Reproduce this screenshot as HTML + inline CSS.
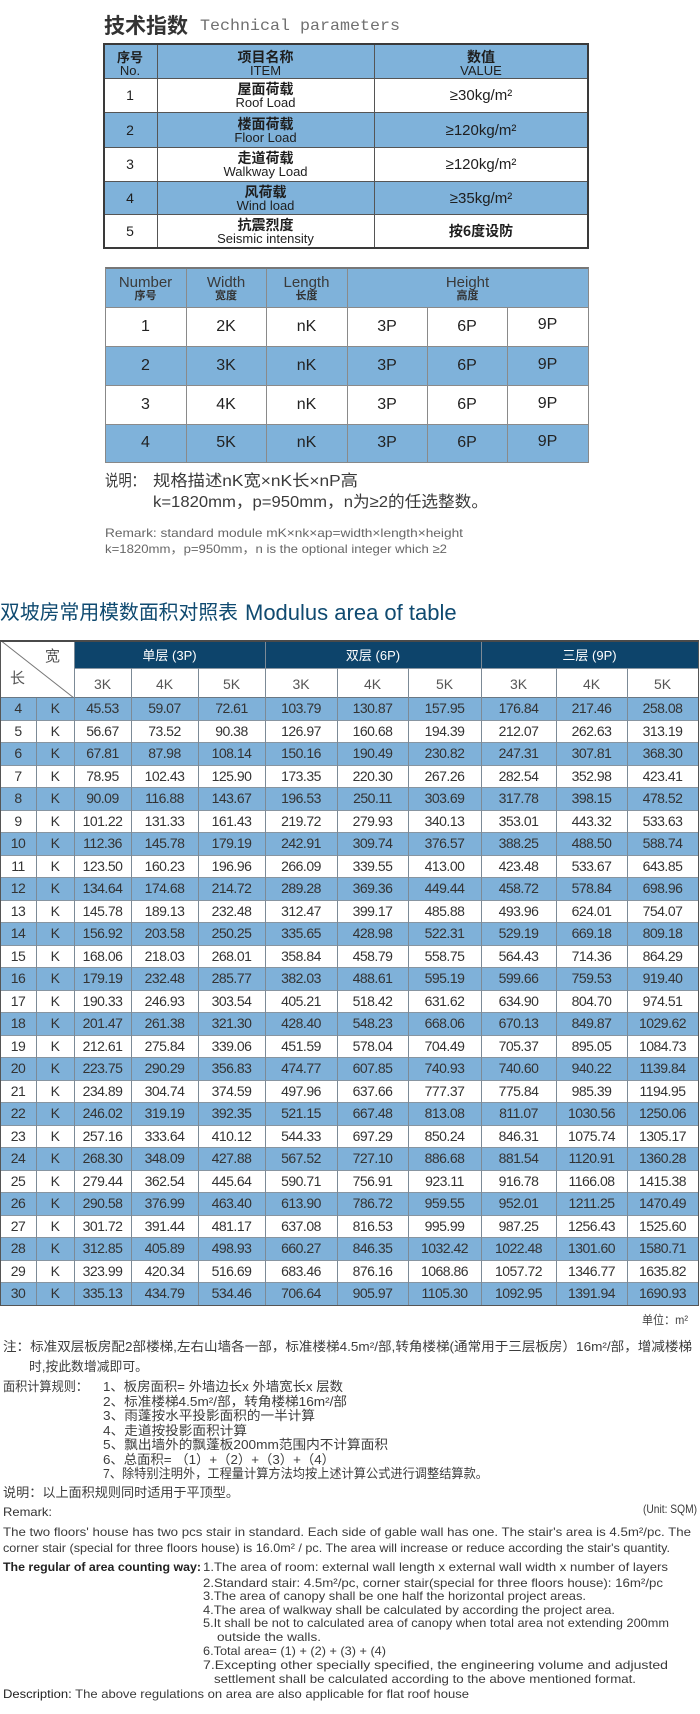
<!DOCTYPE html>
<html><head><meta charset="utf-8">
<style>
*{margin:0;padding:0;box-sizing:border-box}
html,body{width:700px;height:1714px;background:#fff;overflow:hidden}
body{position:relative;font-family:"Liberation Sans","Noto Sans CJK SC",sans-serif;color:#333}
.a{position:absolute}
.f{position:absolute;white-space:nowrap;height:20px;line-height:20px;transform-origin:0 50%}
.c{position:absolute;display:flex;flex-direction:column;align-items:center;justify-content:center;text-align:center;white-space:nowrap}
.b1{background:#7fb2da}
.hl{position:absolute;height:1px}
.vl{position:absolute;width:1px}
.t1 .c{color:#1e1e1e}
.zh{font-family:"Noto Sans CJK SC",sans-serif;font-weight:bold}
.t2 .c{color:#222;font-size:16px}
.r{display:flex;height:22.5px;border-bottom:1px solid #8795a1;color:#333;font-size:14px;letter-spacing:-0.5px}
.r i{font-style:normal;text-align:center;line-height:21.5px;display:block}
.r i:nth-child(1){width:36px}.r i:nth-child(2){width:38px}.r i:nth-child(3){width:57px}
.r i:nth-child(4){width:67px}.r i:nth-child(5){width:67px}.r i:nth-child(6){width:72px}
.r i:nth-child(7){width:71px}.r i:nth-child(8){width:73px}.r i:nth-child(9){width:75px}
.r i:nth-child(10){width:71px}.r i:nth-child(11){width:71px}
.b{background:#7fb1d9}
.n{color:#3c3c3c;font-size:13px}
.e{color:#3a3a3a;font-size:12px}
</style></head><body>

<!-- Title -->
<div class="f" style="left:104px;top:15px;width:84px;font-size:21px;font-weight:bold;color:#333;font-family:'Noto Sans CJK SC',sans-serif">技术指数</div>
<div class="f" style="left:200px;top:16px;width:200px;font-size:16px;color:#707070;font-family:'Liberation Mono',monospace">Technical parameters</div>

<!-- Table 1 -->
<div class="t1">
<div class="a b1" style="left:103px;top:43px;width:485px;height:35px"></div>
<div class="a b1" style="left:103px;top:112px;width:485px;height:35px"></div>
<div class="a b1" style="left:103px;top:181px;width:485px;height:33px"></div>
<div class="hl" style="left:103px;top:78px;width:485px;background:#555"></div>
<div class="hl" style="left:103px;top:112px;width:485px;background:#555"></div>
<div class="hl" style="left:103px;top:147px;width:485px;background:#555"></div>
<div class="hl" style="left:103px;top:181px;width:485px;background:#555"></div>
<div class="hl" style="left:103px;top:214px;width:485px;background:#555"></div>
<div class="vl" style="left:157px;top:43px;height:205px;background:#555"></div>
<div class="vl" style="left:374px;top:43px;height:205px;background:#555"></div>
<div class="a" style="left:103px;top:43px;width:486px;height:206px;border:2px solid #3a3a3a"></div>

<div class="c" style="left:103px;top:46px;width:54px;height:35px;line-height:14px;font-size:13px"><span class="zh">序号</span><span>No.</span></div>
<div class="c" style="left:157px;top:46px;width:217px;height:35px;line-height:14px;font-size:13px"><span class="zh" style="font-size:14px">项目名称</span><span>ITEM</span></div>
<div class="c" style="left:374px;top:46px;width:214px;height:35px;line-height:14px;font-size:13px"><span class="zh" style="font-size:14px">数值</span><span>VALUE</span></div>

<div class="c" style="left:103px;top:78px;width:54px;height:34px;font-size:14px">1</div>
<div class="c" style="left:157px;top:79px;width:217px;height:34px;line-height:14px;font-size:13px"><span class="zh" style="font-size:14px">屋面荷载</span><span>Roof Load</span></div>
<div class="c" style="left:374px;top:78px;width:214px;height:34px;font-size:15px">≥30kg/m²</div>

<div class="c" style="left:103px;top:112px;width:54px;height:35px;font-size:14px">2</div>
<div class="c" style="left:157px;top:113px;width:217px;height:35px;line-height:14px;font-size:13px"><span class="zh" style="font-size:14px">楼面荷载</span><span>Floor Load</span></div>
<div class="c" style="left:374px;top:113px;width:214px;height:35px;font-size:15px">≥120kg/m²</div>

<div class="c" style="left:103px;top:147px;width:54px;height:34px;font-size:14px">3</div>
<div class="c" style="left:157px;top:148px;width:217px;height:34px;line-height:14px;font-size:13px"><span class="zh" style="font-size:14px">走道荷载</span><span>Walkway Load</span></div>
<div class="c" style="left:374px;top:147px;width:214px;height:34px;font-size:15px">≥120kg/m²</div>

<div class="c" style="left:103px;top:181px;width:54px;height:33px;font-size:14px">4</div>
<div class="c" style="left:157px;top:182px;width:217px;height:33px;line-height:14px;font-size:13px"><span class="zh" style="font-size:14px">风荷载</span><span>Wind load</span></div>
<div class="c" style="left:374px;top:182px;width:214px;height:33px;font-size:15px">≥35kg/m²</div>

<div class="c" style="left:103px;top:214px;width:54px;height:34px;font-size:14px">5</div>
<div class="c" style="left:157px;top:215px;width:217px;height:34px;line-height:13px;font-size:13px"><span class="zh" style="font-size:14px">抗震烈度</span><span>Seismic intensity</span></div>
<div class="c" style="left:374px;top:214px;width:214px;height:34px;font-size:14px"><span class="zh" style="font-weight:bold">按6度设防</span></div>
</div>

<!-- Table 2 -->
<div class="t2">
<div class="a b1" style="left:105px;top:268px;width:483px;height:39px"></div>
<div class="a b1" style="left:105px;top:346px;width:483px;height:39px"></div>
<div class="a b1" style="left:105px;top:424px;width:483px;height:38px"></div>
<div class="hl" style="left:105px;top:307px;width:483px;background:#8a8a8a"></div>
<div class="hl" style="left:105px;top:346px;width:483px;background:#8a8a8a"></div>
<div class="hl" style="left:105px;top:385px;width:483px;background:#8a8a8a"></div>
<div class="hl" style="left:105px;top:424px;width:483px;background:#8a8a8a"></div>
<div class="vl" style="left:186px;top:268px;height:194px;background:#8a8a8a"></div>
<div class="vl" style="left:266px;top:268px;height:194px;background:#8a8a8a"></div>
<div class="vl" style="left:347px;top:268px;height:194px;background:#8a8a8a"></div>
<div class="vl" style="left:427px;top:307px;height:155px;background:#8a8a8a"></div>
<div class="vl" style="left:507px;top:307px;height:155px;background:#8a8a8a"></div>
<div class="a" style="left:105px;top:267px;width:484px;height:196px;border:1px solid #888;border-top:2px solid #777"></div>

<div class="c" style="left:105px;top:270px;width:81px;height:37px;line-height:13px"><span style="font-size:15px;color:#3a3a3a">Number</span><span class="zh" style="font-size:11px;color:#333">序号</span></div>
<div class="c" style="left:186px;top:270px;width:80px;height:37px;line-height:13px"><span style="font-size:15px;color:#3a3a3a">Width</span><span class="zh" style="font-size:11px;color:#333">宽度</span></div>
<div class="c" style="left:266px;top:270px;width:81px;height:37px;line-height:13px"><span style="font-size:15px;color:#3a3a3a">Length</span><span class="zh" style="font-size:11px;color:#333">长度</span></div>
<div class="c" style="left:347px;top:270px;width:241px;height:37px;line-height:13px"><span style="font-size:15px;color:#3a3a3a">Height</span><span class="zh" style="font-size:11px;color:#333">高度</span></div>

<div class="c" style="left:105px;top:307px;width:81px;height:39px">1</div>
<div class="c" style="left:186px;top:307px;width:80px;height:39px">2K</div>
<div class="c" style="left:266px;top:307px;width:81px;height:39px">nK</div>
<div class="c" style="left:347px;top:307px;width:80px;height:39px">3P</div>
<div class="c" style="left:427px;top:307px;width:80px;height:39px">6P</div>
<div class="c" style="left:507px;top:305px;width:81px;height:39px">9P</div>

<div class="c" style="left:105px;top:346px;width:81px;height:39px">2</div>
<div class="c" style="left:186px;top:346px;width:80px;height:39px">3K</div>
<div class="c" style="left:266px;top:346px;width:81px;height:39px">nK</div>
<div class="c" style="left:347px;top:346px;width:80px;height:39px">3P</div>
<div class="c" style="left:427px;top:346px;width:80px;height:39px">6P</div>
<div class="c" style="left:507px;top:345px;width:81px;height:39px">9P</div>

<div class="c" style="left:105px;top:385px;width:81px;height:39px">3</div>
<div class="c" style="left:186px;top:385px;width:80px;height:39px">4K</div>
<div class="c" style="left:266px;top:385px;width:81px;height:39px">nK</div>
<div class="c" style="left:347px;top:385px;width:80px;height:39px">3P</div>
<div class="c" style="left:427px;top:385px;width:80px;height:39px">6P</div>
<div class="c" style="left:507px;top:384px;width:81px;height:39px">9P</div>

<div class="c" style="left:105px;top:424px;width:81px;height:38px">4</div>
<div class="c" style="left:186px;top:424px;width:80px;height:38px">5K</div>
<div class="c" style="left:266px;top:424px;width:81px;height:38px">nK</div>
<div class="c" style="left:347px;top:424px;width:80px;height:38px">3P</div>
<div class="c" style="left:427px;top:424px;width:80px;height:38px">6P</div>
<div class="c" style="left:507px;top:423px;width:81px;height:38px">9P</div>
</div>

<!-- Notes under table 2 -->
<div class="f" style="left:105px;top:472px;width:40px;font-size:16px;color:#3a3a3a">说明：</div>
<div class="f" style="left:153px;top:472px;width:205px;font-size:16px;color:#3a3a3a">规格描述nK宽×nK长×nP高</div>
<div class="f" style="left:153px;top:493px;width:335px;font-size:16px;color:#3a3a3a">k=1820mm，p=950mm，n为≥2的任选整数。</div>
<div class="f" style="left:105px;top:523px;width:358px;font-size:12px;color:#666">Remark: standard module mK×nk×ap=width×length×height</div>
<div class="f" style="left:105px;top:539px;width:342px;font-size:12px;color:#666">k=1820mm，p=950mm，n is the optional integer which ≥2</div>

<!-- Section title -->
<div class="f" style="left:0px;top:602px;width:238px;height:22px;line-height:22px;font-size:20px;color:#0f4a70">双坡房常用模数面积对照表</div>
<div class="a" style="left:245px;top:601px;height:24px;line-height:24px;font-size:22px;color:#0f4a70;white-space:nowrap">Modulus area of table</div>

<!-- Big table header -->
<div class="a" style="left:74px;top:640px;width:624px;height:28px;background:#0d446b"></div>
<svg class="a" style="left:0;top:640px" width="75" height="58"><line x1="0" y1="0" x2="74" y2="58" stroke="#777" stroke-width="1"/></svg>
<div class="a" style="left:45px;top:646px;font-size:15px;color:#555;font-family:'Noto Sans CJK SC',sans-serif;line-height:20px">宽</div>
<div class="a" style="left:10px;top:668px;font-size:15px;color:#555;font-family:'Noto Sans CJK SC',sans-serif;line-height:20px">长</div>
<div class="c" style="left:74px;top:640px;width:191px;height:28px;color:#fff;font-size:13px">单层 (3P)</div>
<div class="c" style="left:265px;top:640px;width:216px;height:28px;color:#fff;font-size:13px">双层 (6P)</div>
<div class="c" style="left:481px;top:640px;width:217px;height:28px;color:#fff;font-size:13px">三层 (9P)</div>
<div class="hl" style="left:74px;top:668px;width:624px;background:#8a98a4"></div>
<div class="c" style="left:74px;top:669px;width:57px;height:29px;color:#555;font-size:14px">3K</div>
<div class="c" style="left:131px;top:669px;width:67px;height:29px;color:#555;font-size:14px">4K</div>
<div class="c" style="left:198px;top:669px;width:67px;height:29px;color:#555;font-size:14px">5K</div>
<div class="c" style="left:265px;top:669px;width:72px;height:29px;color:#555;font-size:14px">3K</div>
<div class="c" style="left:337px;top:669px;width:71px;height:29px;color:#555;font-size:14px">4K</div>
<div class="c" style="left:408px;top:669px;width:73px;height:29px;color:#555;font-size:14px">5K</div>
<div class="c" style="left:481px;top:669px;width:75px;height:29px;color:#555;font-size:14px">3K</div>
<div class="c" style="left:556px;top:669px;width:71px;height:29px;color:#555;font-size:14px">4K</div>
<div class="c" style="left:627px;top:669px;width:71px;height:29px;color:#555;font-size:14px">5K</div>
<div class="hl" style="left:0px;top:697px;width:698px;background:#6a7884"></div>

<!-- Big table rows -->
<div class="a" style="left:0;top:698px;width:698px">
<div class="r b"><i>4</i><i>K</i><i>45.53</i><i>59.07</i><i>72.61</i><i>103.79</i><i>130.87</i><i>157.95</i><i>176.84</i><i>217.46</i><i>258.08</i></div>
<div class="r"><i>5</i><i>K</i><i>56.67</i><i>73.52</i><i>90.38</i><i>126.97</i><i>160.68</i><i>194.39</i><i>212.07</i><i>262.63</i><i>313.19</i></div>
<div class="r b"><i>6</i><i>K</i><i>67.81</i><i>87.98</i><i>108.14</i><i>150.16</i><i>190.49</i><i>230.82</i><i>247.31</i><i>307.81</i><i>368.30</i></div>
<div class="r"><i>7</i><i>K</i><i>78.95</i><i>102.43</i><i>125.90</i><i>173.35</i><i>220.30</i><i>267.26</i><i>282.54</i><i>352.98</i><i>423.41</i></div>
<div class="r b"><i>8</i><i>K</i><i>90.09</i><i>116.88</i><i>143.67</i><i>196.53</i><i>250.11</i><i>303.69</i><i>317.78</i><i>398.15</i><i>478.52</i></div>
<div class="r"><i>9</i><i>K</i><i>101.22</i><i>131.33</i><i>161.43</i><i>219.72</i><i>279.93</i><i>340.13</i><i>353.01</i><i>443.32</i><i>533.63</i></div>
<div class="r b"><i>10</i><i>K</i><i>112.36</i><i>145.78</i><i>179.19</i><i>242.91</i><i>309.74</i><i>376.57</i><i>388.25</i><i>488.50</i><i>588.74</i></div>
<div class="r"><i>11</i><i>K</i><i>123.50</i><i>160.23</i><i>196.96</i><i>266.09</i><i>339.55</i><i>413.00</i><i>423.48</i><i>533.67</i><i>643.85</i></div>
<div class="r b"><i>12</i><i>K</i><i>134.64</i><i>174.68</i><i>214.72</i><i>289.28</i><i>369.36</i><i>449.44</i><i>458.72</i><i>578.84</i><i>698.96</i></div>
<div class="r"><i>13</i><i>K</i><i>145.78</i><i>189.13</i><i>232.48</i><i>312.47</i><i>399.17</i><i>485.88</i><i>493.96</i><i>624.01</i><i>754.07</i></div>
<div class="r b"><i>14</i><i>K</i><i>156.92</i><i>203.58</i><i>250.25</i><i>335.65</i><i>428.98</i><i>522.31</i><i>529.19</i><i>669.18</i><i>809.18</i></div>
<div class="r"><i>15</i><i>K</i><i>168.06</i><i>218.03</i><i>268.01</i><i>358.84</i><i>458.79</i><i>558.75</i><i>564.43</i><i>714.36</i><i>864.29</i></div>
<div class="r b"><i>16</i><i>K</i><i>179.19</i><i>232.48</i><i>285.77</i><i>382.03</i><i>488.61</i><i>595.19</i><i>599.66</i><i>759.53</i><i>919.40</i></div>
<div class="r"><i>17</i><i>K</i><i>190.33</i><i>246.93</i><i>303.54</i><i>405.21</i><i>518.42</i><i>631.62</i><i>634.90</i><i>804.70</i><i>974.51</i></div>
<div class="r b"><i>18</i><i>K</i><i>201.47</i><i>261.38</i><i>321.30</i><i>428.40</i><i>548.23</i><i>668.06</i><i>670.13</i><i>849.87</i><i>1029.62</i></div>
<div class="r"><i>19</i><i>K</i><i>212.61</i><i>275.84</i><i>339.06</i><i>451.59</i><i>578.04</i><i>704.49</i><i>705.37</i><i>895.05</i><i>1084.73</i></div>
<div class="r b"><i>20</i><i>K</i><i>223.75</i><i>290.29</i><i>356.83</i><i>474.77</i><i>607.85</i><i>740.93</i><i>740.60</i><i>940.22</i><i>1139.84</i></div>
<div class="r"><i>21</i><i>K</i><i>234.89</i><i>304.74</i><i>374.59</i><i>497.96</i><i>637.66</i><i>777.37</i><i>775.84</i><i>985.39</i><i>1194.95</i></div>
<div class="r b"><i>22</i><i>K</i><i>246.02</i><i>319.19</i><i>392.35</i><i>521.15</i><i>667.48</i><i>813.08</i><i>811.07</i><i>1030.56</i><i>1250.06</i></div>
<div class="r"><i>23</i><i>K</i><i>257.16</i><i>333.64</i><i>410.12</i><i>544.33</i><i>697.29</i><i>850.24</i><i>846.31</i><i>1075.74</i><i>1305.17</i></div>
<div class="r b"><i>24</i><i>K</i><i>268.30</i><i>348.09</i><i>427.88</i><i>567.52</i><i>727.10</i><i>886.68</i><i>881.54</i><i>1120.91</i><i>1360.28</i></div>
<div class="r"><i>25</i><i>K</i><i>279.44</i><i>362.54</i><i>445.64</i><i>590.71</i><i>756.91</i><i>923.11</i><i>916.78</i><i>1166.08</i><i>1415.38</i></div>
<div class="r b"><i>26</i><i>K</i><i>290.58</i><i>376.99</i><i>463.40</i><i>613.90</i><i>786.72</i><i>959.55</i><i>952.01</i><i>1211.25</i><i>1470.49</i></div>
<div class="r"><i>27</i><i>K</i><i>301.72</i><i>391.44</i><i>481.17</i><i>637.08</i><i>816.53</i><i>995.99</i><i>987.25</i><i>1256.43</i><i>1525.60</i></div>
<div class="r b"><i>28</i><i>K</i><i>312.85</i><i>405.89</i><i>498.93</i><i>660.27</i><i>846.35</i><i>1032.42</i><i>1022.48</i><i>1301.60</i><i>1580.71</i></div>
<div class="r"><i>29</i><i>K</i><i>323.99</i><i>420.34</i><i>516.69</i><i>683.46</i><i>876.16</i><i>1068.86</i><i>1057.72</i><i>1346.77</i><i>1635.82</i></div>
<div class="r b" style="border-bottom-color:#555"><i>30</i><i>K</i><i>335.13</i><i>434.79</i><i>534.46</i><i>706.64</i><i>905.97</i><i>1105.30</i><i>1092.95</i><i>1391.94</i><i>1690.93</i></div>
</div>

<!-- Big table vertical lines -->
<div class="vl" style="left:36px;top:698px;height:608px;background:#7c8a96"></div>
<div class="vl" style="left:74px;top:640px;height:666px;background:#7c8a96"></div>
<div class="vl" style="left:131px;top:668px;height:638px;background:#7c8a96"></div>
<div class="vl" style="left:198px;top:668px;height:638px;background:#7c8a96"></div>
<div class="vl" style="left:265px;top:640px;height:666px;background:#7c8a96"></div>
<div class="vl" style="left:337px;top:668px;height:638px;background:#7c8a96"></div>
<div class="vl" style="left:408px;top:668px;height:638px;background:#7c8a96"></div>
<div class="vl" style="left:481px;top:640px;height:666px;background:#7c8a96"></div>
<div class="vl" style="left:556px;top:668px;height:638px;background:#7c8a96"></div>
<div class="vl" style="left:627px;top:668px;height:638px;background:#7c8a96"></div>
<div class="a" style="left:0;top:640px;width:699px;height:666px;border:1px solid #555;border-top:2px solid #4a4a4a"></div>

<!-- Unit -->
<div class="f" style="left:642px;top:1310px;width:46px;font-size:12px;color:#444">单位：m²</div>

<!-- Chinese notes -->
<div class="f n" style="left:3px;top:1337px;width:689px">注：标准双层板房配2部楼梯,左右山墙各一部，标准楼梯4.5m²/部,转角楼梯(通常用于三层板房）16m²/部，增减楼梯</div>
<div class="f n" style="left:29px;top:1357px;width:119px">时,按此数增减即可。</div>
<div class="f n" style="left:3px;top:1377px;width:85px">面积计算规则：</div>
<div class="f n" style="left:103px;top:1377px;width:240px">1、板房面积= 外墙边长x 外墙宽长x 层数</div>
<div class="f n" style="left:103px;top:1391.5px;width:244px">2、标准楼梯4.5m²/部，转角楼梯16m²/部</div>
<div class="f n" style="left:103px;top:1406px;width:212px">3、雨蓬按水平投影面积的一半计算</div>
<div class="f n" style="left:103px;top:1420.5px;width:144px">4、走道按投影面积计算</div>
<div class="f n" style="left:103px;top:1435px;width:285px">5、飘出墙外的飘蓬板200mm范围内不计算面积</div>
<div class="f n" style="left:103px;top:1449.5px;width:232px">6、总面积= （1）+（2）+（3）+（4）</div>
<div class="f n" style="left:103px;top:1464px;width:385px">7、除特别注明外，工程量计算方法均按上述计算公式进行调整结算款。</div>
<div class="f n" style="left:3px;top:1483px;width:236px">说明：以上面积规则同时适用于平顶型。</div>

<!-- English notes -->
<div class="f e" style="left:3px;top:1502px;width:49px;color:#333">Remark:</div>
<div class="f e" style="left:643px;top:1499px;width:54px">(Unit: SQM)</div>
<div class="f e" style="left:3px;top:1522px;width:688px">The two floors' house has two pcs stair in standard. Each side of gable wall has one. The stair's area is 4.5m²/pc. The</div>
<div class="f e" style="left:3px;top:1538px;width:667px">corner stair (special for three floors house) is 16.0m² / pc. The area will increase or reduce according the stair's quantity.</div>
<div class="f e" style="left:3px;top:1557px;width:198px;color:#222;font-weight:bold">The regular of area counting way:</div>
<div class="f e" style="left:203px;top:1557px;width:465px">1.The area of room: external wall length x external wall width x number of layers</div>
<div class="f e" style="left:203px;top:1573px;width:460px">2.Standard stair: 4.5m²/pc, corner stair(special for three floors house): 16m²/pc</div>
<div class="f e" style="left:203px;top:1586px;width:383px">3.The area of canopy shall be one half the horizontal project areas.</div>
<div class="f e" style="left:203px;top:1600px;width:412px">4.The area of walkway shall be calculated by according the project area.</div>
<div class="f e" style="left:203px;top:1613px;width:466px">5.It shall be not to calculated area of canopy when total area not extending 200mm</div>
<div class="f e" style="left:217px;top:1627px;width:104px">outside the walls.</div>
<div class="f e" style="left:203px;top:1641px;width:183px">6.Total area= (1) + (2) + (3) + (4)</div>
<div class="f e" style="left:203px;top:1655px;width:465px">7.Excepting other specially specified, the engineering volume and adjusted</div>
<div class="f e" style="left:214px;top:1669px;width:422px">settlement shall be calculated according to the above mentioned format.</div>
<div class="f e" style="left:3px;top:1684px;width:466px"><span style="color:#222">Description:</span> The above regulations on area are also applicable for flat roof house</div>

<script>
(function(){
  var els=document.querySelectorAll('.f');
  for(var i=0;i<els.length;i++){
    var e=els[i];
    var w=parseFloat(e.style.width);
    if(!w) continue;
    e.style.width='auto';
    var n=e.getBoundingClientRect().width;
    if(n>0){e.style.transform='scaleX('+(w/n)+')';}
  }
})();
</script>
</body></html>
